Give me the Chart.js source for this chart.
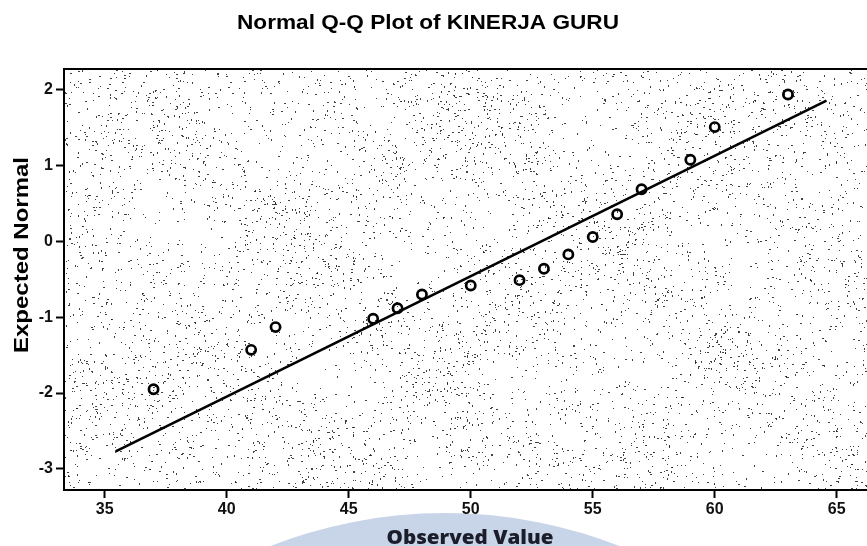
<!DOCTYPE html>
<html>
<head>
<meta charset="utf-8">
<script src="https://cdn.jsdelivr.net/npm/chart.js@4.4.1/dist/chart.umd.min.js"></script>
<style>
  html, body { margin: 0; padding: 0; background: #fff; }
  #wrap { position: relative; width: 867px; height: 546px; }
  canvas { display: block; }
</style>
</head>
<body>
<div id="wrap"><canvas id="qq" width="867" height="546"></canvas></div>
<script>
// Observed scores and their expected normal quantiles
const observedValues = [37, 41, 42, 46, 47, 48, 50, 52, 53, 54, 55, 56, 57, 59, 60, 63];
const expectedNormal = [-1.95, -1.43, -1.13, -1.02, -0.88, -0.70, -0.58, -0.51, -0.36, -0.17, 0.06, 0.36, 0.69, 1.08, 1.51, 1.94];

// Reference line end points (observed, expected)
const refLineX = [35.45, 64.58];
const refLineY = [-2.77, 1.86];

// Axis ticks
const xTicks = [35, 40, 45, 50, 55, 60, 65];
const yTicks = [-3, -2, -1, 0, 1, 2];

const titleText = 'Normal Q-Q Plot of KINERJA GURU';
const xTitleText = 'Observed Value';
const yTitleText = 'Expected Normal';

// Seeded generator for the plot-area grain texture (same output every run)
function seeded(seed) {
  let s = seed >>> 0;
  return function () {
    s = (s + 0x6D2B79F5) >>> 0;
    let t = s;
    t = Math.imul(t ^ (t >>> 15), t | 1);
    t ^= t + Math.imul(t ^ (t >>> 7), t | 61);
    return ((t ^ (t >>> 14)) >>> 0) / 4294967296;
  };
}

// Draw text fitted to a given length
function fitText(ctx, text, font, width) {
  ctx.font = font;
  const w = ctx.measureText(text).width;
  ctx.save();
  ctx.scale(width / w, 1);
  ctx.fillText(text, 0, 0);
  ctx.restore();
}

const backdrop = {
  id: 'backdrop',
  beforeDraw(chart) {
    const ctx = chart.ctx;
    const a = chart.chartArea;
    ctx.save();
    ctx.fillStyle = '#ffffff';
    ctx.fillRect(0, 0, chart.width, chart.height);

    // pale emblem behind the x-axis title
    ctx.fillStyle = '#c8d5e8';
    ctx.beginPath();
    ctx.arc(445, 990, 477, 0, Math.PI * 2);
    ctx.fill();

    // stippled plot background
    ctx.beginPath();
    ctx.rect(a.left, a.top, a.right - a.left, a.bottom - a.top);
    ctx.clip();
    ctx.fillStyle = '#ffffff';
    ctx.fillRect(a.left, a.top, a.right - a.left, a.bottom - a.top);
    const w = a.right - a.left, h = a.bottom - a.top;
    const rnd = seeded(20240611);
    ctx.fillStyle = 'rgba(25,25,25,0.82)';
    for (let i = 0; i < 11500; i++) {
      const x = a.left + rnd() * w;
      const y = a.top + rnd() * h;
      const field = 0.55 + 0.28 * Math.sin(x / 47 + 1.3) * Math.cos(y / 39) + 0.14 * Math.sin((x - y) / 27);
      const keep = rnd();
      const s = rnd();
      if (keep > field) continue;
      const dw = s < 0.25 ? 2 : 1;
      const dh = s > 0.8 ? 2 : 1;
      ctx.fillRect(Math.round(x), Math.round(y), dw, dh);
    }
    ctx.restore();
  },
  afterDraw(chart) {
    const ctx = chart.ctx;
    const a = chart.chartArea;
    ctx.save();
    // top frame
    ctx.strokeStyle = '#000';
    ctx.lineWidth = 2;
    ctx.beginPath();
    ctx.moveTo(a.left - 1, a.top);
    ctx.lineTo(a.right, a.top);
    ctx.stroke();

    // chart title
    ctx.fillStyle = '#000';
    ctx.textAlign = 'center';
    ctx.textBaseline = 'alphabetic';
    ctx.save();
    ctx.translate(428, 29);
    fitText(ctx, titleText, 'bold 20px "Liberation Sans", Arial, sans-serif', 382);
    ctx.restore();

    // y-axis title
    ctx.save();
    ctx.translate(28, 255);
    ctx.rotate(-Math.PI / 2);
    fitText(ctx, yTitleText, 'bold 20px "Liberation Sans", Arial, sans-serif', 196);
    ctx.restore();

    // x-axis title
    ctx.fillStyle = '#1b1e2a';
    ctx.save();
    ctx.translate(470, 544);
    fitText(ctx, xTitleText, '800 20px "Open Sans", sans-serif', 167);
    ctx.restore();
    ctx.restore();
  }
};

const tickFont = { family: '"Liberation Sans", Arial, sans-serif', weight: 'bold', size: 16 };

new Chart(document.getElementById('qq'), {
  type: 'scatter',
  data: {
    datasets: [
      {
        label: 'Observed',
        data: observedValues.map((v, i) => ({ x: v, y: expectedNormal[i] })),
        pointStyle: 'circle',
        pointRadius: 4.6,
        pointBorderWidth: 2.7,
        borderColor: '#000',
        backgroundColor: 'rgba(0,0,0,0)',
        showLine: false,
        order: 1
      },
      {
        label: 'Reference',
        data: refLineX.map((v, i) => ({ x: v, y: refLineY[i] })),
        showLine: true,
        borderColor: '#000',
        borderWidth: 2.7,
        pointRadius: 0,
        order: 2
      }
    ]
  },
  options: {
    responsive: false,
    devicePixelRatio: 1,
    animation: false,
    layout: { autoPadding: false, padding: { top: 69, left: 0, right: 0, bottom: 0 } },
    plugins: {
      legend: { display: false },
      tooltip: { enabled: false },
      title: { display: false }
    },
    scales: {
      x: {
        type: 'linear',
        min: 33.33,
        max: 66.24,
        afterBuildTicks: s => { s.ticks = xTicks.map(v => ({ value: v })); },
        afterFit: s => { s.height = 56; s.paddingLeft = 0; s.paddingRight = 0; },
        grid: { drawOnChartArea: false, drawTicks: true, tickLength: 8, tickWidth: 2, color: '#000' },
        border: { display: true, color: '#000', width: 2 },
        ticks: { font: tickFont, color: '#111', padding: 2, maxRotation: 0, autoSkip: false, callback: v => String(v) }
      },
      y: {
        type: 'linear',
        min: -3.28,
        max: 2.277,
        afterBuildTicks: s => { s.ticks = yTicks.map(v => ({ value: v })); },
        afterFit: s => { s.width = 64; s.paddingTop = 0; s.paddingBottom = 0; },
        grid: { drawOnChartArea: false, drawTicks: true, tickLength: 8, tickWidth: 2, color: '#000' },
        border: { display: true, color: '#000', width: 2 },
        ticks: { font: tickFont, color: '#111', padding: 3, autoSkip: false, callback: v => String(v) }
      }
    }
  },
  plugins: [backdrop]
});
</script>
</body>
</html>
